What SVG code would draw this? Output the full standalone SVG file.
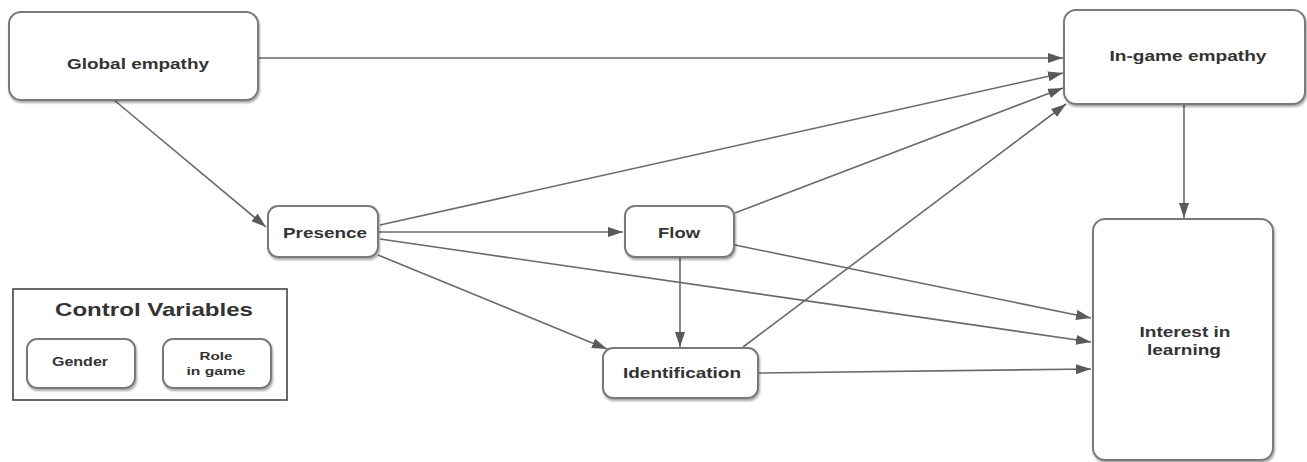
<svg xmlns="http://www.w3.org/2000/svg" width="1307" height="462" viewBox="0 0 1307 462">
<style>
.box{fill:#fff;stroke:#7a7a7a;stroke-width:2;filter:url(#sh)}
.lbl{font-family:"Liberation Sans",Arial,sans-serif;font-weight:bold;fill:#333;text-anchor:middle}
.edge{stroke:#6a6a6a;stroke-width:1.6;fill:none;marker-end:url(#ah)}
</style>
<defs>
<filter id="sh" x="-10%" y="-10%" width="130%" height="140%">
<feDropShadow dx="1" dy="2" stdDeviation="1.2" flood-color="#000" flood-opacity="0.35"/>
</filter>
<marker id="ah" markerUnits="userSpaceOnUse" markerWidth="16" markerHeight="12" refX="15" refY="5" orient="auto">
<path d="M0,0 L15,5 L0,10 Z" fill="#5a5a5a"/>
</marker>
</defs>
<g id="connectors">
<line class="edge" x1="259" y1="58" x2="1063" y2="58"/>
<line class="edge" x1="114" y1="100" x2="266" y2="227"/>
<line class="edge" x1="380" y1="225" x2="1063" y2="73"/>
<line class="edge" x1="735" y1="213" x2="1063" y2="88"/>
<line class="edge" x1="743" y1="347" x2="1066" y2="104"/>
<line class="edge" x1="379" y1="232" x2="623" y2="232"/>
<line class="edge" x1="380" y1="239" x2="1091" y2="342"/>
<line class="edge" x1="378" y1="255" x2="607" y2="349"/>
<line class="edge" x1="680" y1="257" x2="680" y2="347"/>
<line class="edge" x1="735" y1="245" x2="1091" y2="318"/>
<line class="edge" x1="759" y1="373" x2="1091" y2="369"/>
<line class="edge" x1="1184" y1="104" x2="1184" y2="218"/>
</g>
<g id="global-empathy">
<rect class="box" x="9" y="12" width="249" height="88" rx="12"/>
<text class="lbl" x="138" y="69" font-size="15" textLength="142" lengthAdjust="spacingAndGlyphs">Global empathy</text>
</g>
<g id="in-game-empathy">
<rect class="box" x="1064" y="10" width="241" height="94" rx="12"/>
<text class="lbl" x="1188" y="61" font-size="15" textLength="157" lengthAdjust="spacingAndGlyphs">In-game empathy</text>
</g>
<g id="presence">
<rect class="box" x="268" y="206" width="110" height="51" rx="10"/>
<text class="lbl" x="325" y="238" font-size="15" textLength="84" lengthAdjust="spacingAndGlyphs">Presence</text>
</g>
<g id="flow">
<rect class="box" x="625" y="206" width="109" height="51" rx="10"/>
<text class="lbl" x="679" y="238" font-size="15" textLength="42" lengthAdjust="spacingAndGlyphs">Flow</text>
</g>
<g id="identification">
<rect class="box" x="603" y="348" width="155" height="50" rx="10"/>
<text class="lbl" x="682" y="378" font-size="15" textLength="118" lengthAdjust="spacingAndGlyphs">Identification</text>
</g>
<g id="interest-in-learning">
<rect class="box" x="1093" y="219" width="180" height="241" rx="12"/>
<text class="lbl" x="1185" y="337" font-size="15" textLength="91" lengthAdjust="spacingAndGlyphs">Interest in</text>
<text class="lbl" x="1184" y="355" font-size="15" textLength="74" lengthAdjust="spacingAndGlyphs">learning</text>
</g>
<g id="control-variables">
<rect x="13" y="289" width="274" height="111" fill="#fff" stroke="#444" stroke-width="1.6"/>
<text class="lbl" x="154" y="316" font-size="19" textLength="198" lengthAdjust="spacingAndGlyphs">Control Variables</text>
</g>
<g id="gender">
<rect class="box" x="27" y="339" width="108" height="49" rx="10"/>
<text class="lbl" x="80" y="366" font-size="12" textLength="56" lengthAdjust="spacingAndGlyphs">Gender</text>
</g>
<g id="role-in-game">
<rect class="box" x="163" y="339" width="108" height="49" rx="10"/>
<text class="lbl" x="216" y="360" font-size="11" textLength="33" lengthAdjust="spacingAndGlyphs">Role</text>
<text class="lbl" x="216" y="375" font-size="11" textLength="59" lengthAdjust="spacingAndGlyphs">in game</text>
</g>
</svg>
